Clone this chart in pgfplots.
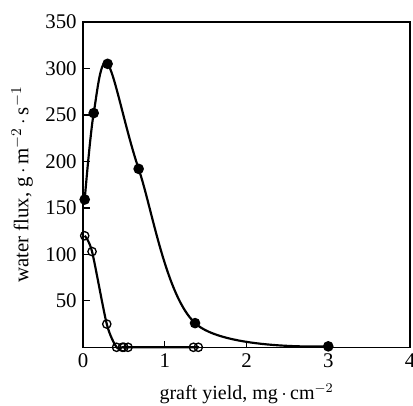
\documentclass[border=0pt]{standalone}
\usepackage{pgfplots}
\pgfplotsset{compat=1.18}
\usepackage{fontspec}
\setmainfont{Liberation Serif}
\begin{document}
\fontsize{11}{13}\selectfont
\begin{tikzpicture}
\begin{axis}[
  name=ax,
  scale only axis,
  width=196pt, height=195pt,
  xmin=0, xmax=4, ymin=0, ymax=350,
  xtick={0,1,2,3,4},
  ytick={50,100,150,200,250,300,350},
  tick pos=left,
  tick align=inside,
  major tick length=4pt,
  /pgf/number format/assume math mode=true,
  tick label style={font=\fontsize{12.5}{14}\selectfont},
  xlabel={graft yield, mg\,$\cdot$\,cm$^{-2}$},
  ylabel={water flux, g\,$\cdot$\,m$^{-2}$\,$\cdot$\,s$^{-1}$},
  xlabel style={font=\fontsize{12}{14}\selectfont, yshift=-2pt},
  ylabel style={font=\fontsize{12.5}{14}\selectfont, yshift=0pt},
  axis line style={line width=0.8pt},
  every tick/.style={black, line width=0.8pt},
  clip=false,
]
\addplot[black, line width=1.3pt, smooth, tension=0.55, mark=*, mark size=2.5pt, mark options={fill=black}]
coordinates {(0.02,159) (0.13,252) (0.30,305) (0.68,192) (1.37,26) (3.0,1)};
\addplot[black, line width=1.3pt, smooth, tension=0.45, mark=o, mark size=2.5pt, mark options={fill=white, line width=0.8pt}]
coordinates {(0.02,120) (0.11,103) (0.29,25) (0.41,0) (0.48,0) (0.50,0) (0.55,0) (1.35,0) (1.41,0)};
\end{axis}
\pgfresetboundingbox
\path ([shift={(-49.8pt,-34.8pt)}]ax.south west) rectangle ([shift={(1.8pt,13.2pt)}]ax.north east);
\end{tikzpicture}
\end{document}
